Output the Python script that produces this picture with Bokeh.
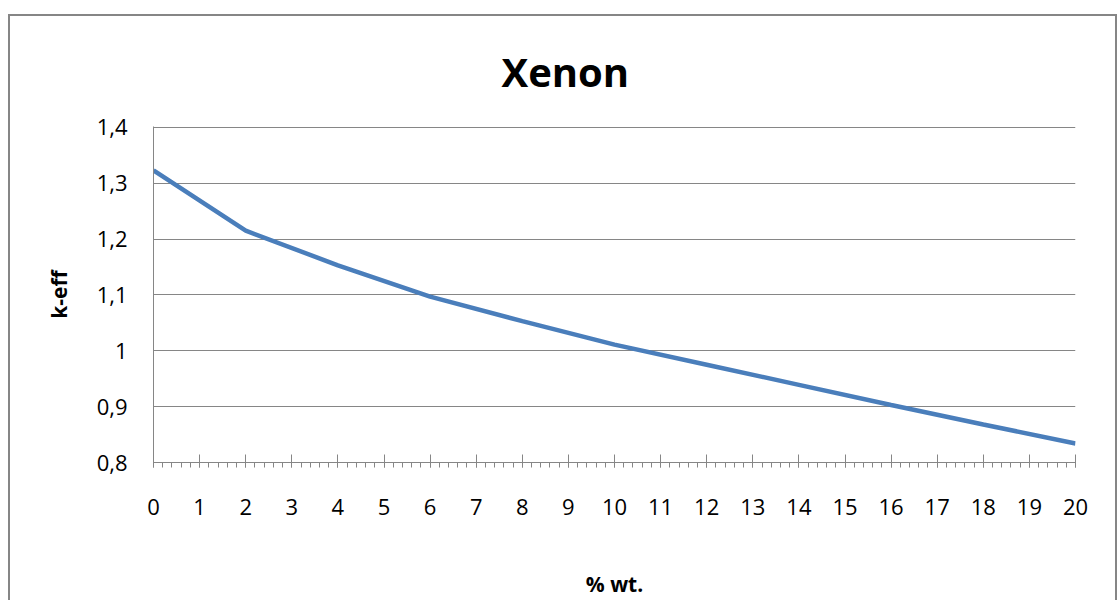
from bokeh.plotting import figure
from bokeh.models import Range1d, FixedTicker, SingleIntervalTicker, Title, InlineStyleSheet
from bokeh.embed import file_html
from bokeh.resources import INLINE

# data
x_pct = [0, 2, 4, 6, 8, 10, 12, 14, 16, 18, 20]
k_eff = [1.323, 1.215, 1.153, 1.097, 1.053, 1.011, 0.975, 0.939, 0.903, 0.868, 0.834]
y_ticks = [0.8, 0.9, 1.0, 1.1, 1.2, 1.3, 1.4]
y_tick_labels = ["0,8", "0,9", "1", "1,1", "1,2", "1,3", "1,4"]

FONT = "Open Sans"
GRAY = "#868686"

p = figure(width=1117, height=600, output_backend="svg", toolbar_location=None,
           x_range=Range1d(0, 20), y_range=Range1d(0.8, 1.4015),
           min_border_left=153, min_border_right=42,
           min_border_top=126, min_border_bottom=138)
p.outline_line_color = None
p.background_fill_color = "white"
p.border_fill_color = "white"

p.title = Title(text="Xenon", align="left", offset=348,
                text_font=FONT, text_font_size="40px", text_font_style="bold",
                text_color="black", standoff=55)

# x axis
p.xaxis.ticker = SingleIntervalTicker(interval=1, num_minor_ticks=5)
p.xaxis.axis_line_color = GRAY
p.xaxis.major_tick_line_color = GRAY
p.xaxis.minor_tick_line_color = GRAY
p.xaxis.major_tick_in = 8
p.xaxis.major_tick_out = 5
p.xaxis.minor_tick_in = 0
p.xaxis.minor_tick_out = 5
p.xaxis.major_label_text_font = FONT
p.xaxis.major_label_text_font_size = "22px"
p.xaxis.major_label_text_color = "black"
p.xaxis.major_label_standoff = 31
p.xaxis.axis_label = "% wt."
p.xaxis.axis_label_text_font = FONT
p.xaxis.axis_label_text_font_size = "21px"
p.xaxis.axis_label_text_font_style = "bold"
p.xaxis.axis_label_text_color = "black"
p.xaxis.axis_label_standoff = 52

# y axis
p.yaxis.ticker = FixedTicker(ticks=y_ticks)
p.yaxis.major_label_overrides = {t: s for t, s in zip(y_ticks, y_tick_labels)}
p.yaxis.axis_line_color = GRAY
p.yaxis.major_tick_line_color = GRAY
p.yaxis.major_tick_in = 8
p.yaxis.major_tick_out = 0
p.yaxis.minor_tick_line_color = None
p.yaxis.major_label_text_font = FONT
p.yaxis.major_label_text_font_size = "22px"
p.yaxis.major_label_text_color = "black"
p.yaxis.major_label_standoff = 26
p.yaxis.axis_label = "k-eff"
p.yaxis.axis_label_text_font = FONT
p.yaxis.axis_label_text_font_size = "21px"
p.yaxis.axis_label_text_font_style = "bold"
p.yaxis.axis_label_text_color = "black"
p.yaxis.axis_label_standoff = 21

p.xgrid.grid_line_color = None
p.ygrid.ticker = FixedTicker(ticks=y_ticks)
p.ygrid.grid_line_color = GRAY
p.ygrid.grid_line_width = 1

p.line(x_pct, k_eff, line_color="#4A7EBB", line_width=4.5)

# chart-area border (Excel style), drawn over the canvas
p.stylesheets = [InlineStyleSheet(css="""
:host { position: relative; overflow: hidden; }
:host::after {
  content: ""; position: absolute; left: 8px; top: 14px; right: 0px; bottom: -20px;
  border: 2px solid #868686; pointer-events: none; z-index: 100;
}
""")]

open("out.html", "w").write(file_html(p, INLINE))
